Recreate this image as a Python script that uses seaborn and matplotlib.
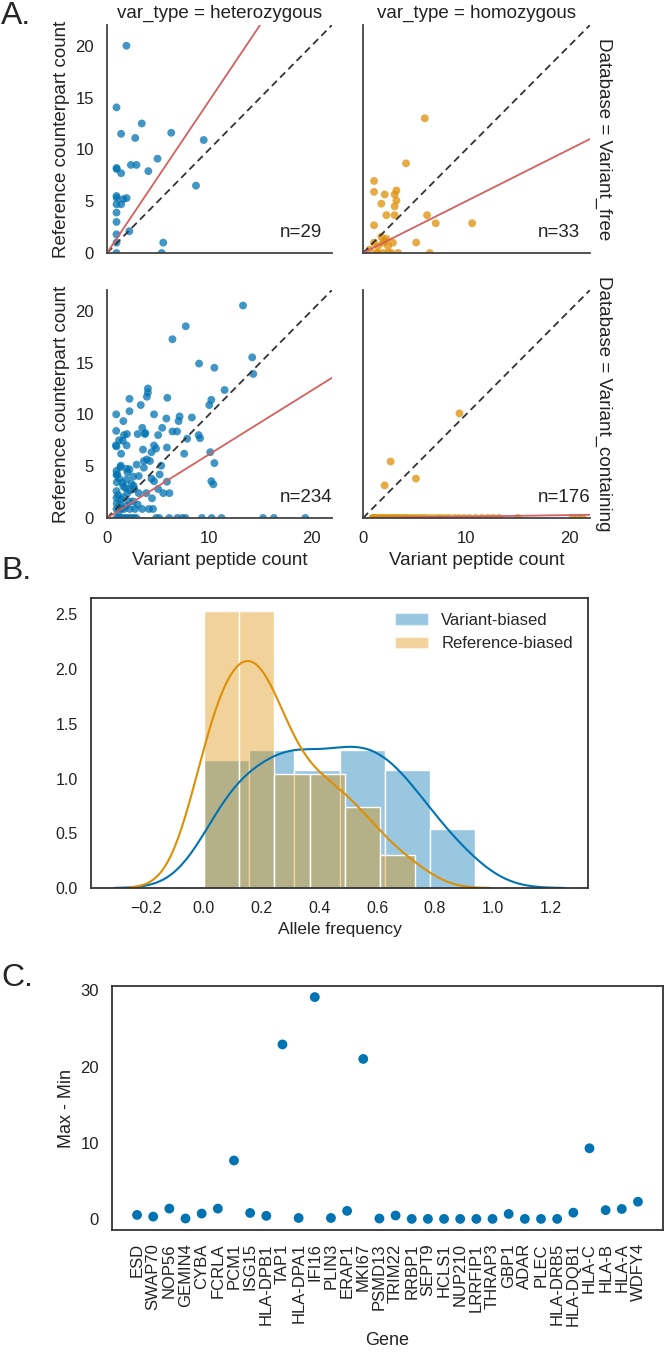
import numpy as np
import pandas as pd
import matplotlib
matplotlib.use("Agg")
import matplotlib.pyplot as plt
from matplotlib.patches import Patch
import seaborn as sns

sns.set_theme(style="white")
plt.rcParams["font.family"] = ["Liberation Sans", "DejaVu Sans"]

BLUE = "#0173B2"
ORANGE = "#DE8F05"
RED = "#d65f5f"

# ---------------- Panel A data: variant count vs reference counterpart count
het_free_x = [1.9, 0.93, 1.38, 3.4, 2.76, 6.28, 9.46, 0.93, 0.95, 1.38, 2.34, 2.88,
              4.94, 4.04, 8.7, 0.93, 0.95, 1.92, 1.6, 1.38, 0.93, 0.93, 0.93, 0.93,
              2.18, 0.93, 5.5, 0.93, 5.35]
het_free_y = [20.0, 14.05, 11.5, 12.5, 11.1, 11.6, 10.9, 8.2, 8.1, 7.7, 8.5, 8.5,
              9.1, 7.9, 6.5, 5.5, 5.3, 5.3, 5.2, 4.7, 4.7, 3.9, 3.0, 1.8,
              2.1, 1.0, 1.0, 0.0, 0.0]

hom_free_x = [5.99, 4.17, 1.07, 1.07, 2.1, 3.24, 3.07, 3.24, 1.78, 3.07, 2.27, 3.07,
              6.21, 7.05, 10.58, 1.07, 5.15, 1.07, 1.78, 2.27, 1.94, 1.46, 2.43,
              1.46, 1.94, 2.43, 2.75, 3.4, 6.47, 0.65, 2.9, 1.3, 2.1]
hom_free_y = [13.0, 8.65, 6.95, 5.9, 5.65, 6.04, 5.65, 5.06, 4.76, 4.5, 3.65, 3.65,
              3.65, 2.87, 2.87, 2.68, 1.01, 1.0, 1.57, 1.37, 1.0, 0.65, 0.65,
              0.0, 0.0, 0.0, 0.0, 0.0, 0.0, 0.33, 1.0, 0.0, 1.15]

het_cont_x = [13.3, 7.7, 6.4, 14.2, 9.0, 10.5, 14.3, 11.5, 4.0, 4.0, 3.9, 2.2, 5.9,
              10.2, 10.0, 3.3, 2.2, 0.9, 4.6, 7.1, 5.8, 8.3, 1.6, 7.0, 3.45, 5.4,
              0.9, 3.75, 1.95, 6.4, 6.85, 8.96, 9.1, 7.84, 5.0, 1.66, 3.0, 3.7,
              1.18, 1.54, 1.92, 0.86, 0.93, 4.6, 4.8, 5.86, 3.52, 4.35, 7.55, 1.38,
              10.1, 10.5, 3.9, 4.2, 3.6, 2.9, 3.6, 5.3, 1.35, 1.92, 2.2, 0.93, 0.93,
              5.15, 3.1, 2.56, 4.35, 4.6, 5.86, 10.2, 10.4, 0.96, 1.92, 1.6, 0.93,
              2.2, 2.66, 5.0, 5.5, 6.1, 3.84, 3.1, 0.93, 1.38, 4.4, 2.18, 0.93,
              1.66, 2.24, 2.75, 3.45, 4.1, 4.5, 1.28, 2.56, 3.0, 1.12, 1.0, 1.2,
              1.5, 1.8, 2.0, 1.1, 1.6, 2.4, 1.3, 2.0, 2.6, 1.9, 0.95, 1.45,
              0.93, 1.2, 1.44, 1.7, 1.92, 2.15, 2.4, 2.65, 2.88, 4.8, 5.12, 6.08,
              6.88, 7.36, 7.68, 9.28, 10.24, 11.2, 15.26, 16.32, 19.39]
het_cont_y = [20.5, 18.5, 17.25, 15.5, 14.9, 14.5, 13.9, 12.35, 12.5, 12.1, 11.7, 11.5, 11.6,
              11.4, 10.9, 10.9, 10.3, 10.0, 10.0, 9.8, 9.6, 9.7, 9.35, 9.35, 8.7, 8.7,
              8.4, 8.2, 8.1, 8.35, 8.35, 8.0, 7.7, 7.65, 8.0, 8.0, 8.1, 8.1,
              7.5, 7.45, 7.0, 7.0, 6.9, 7.0, 6.7, 6.8, 6.6, 6.35, 6.2, 6.2,
              6.35, 5.3, 5.65, 5.5, 5.5, 5.15, 4.85, 5.05, 5.05, 4.75, 4.7, 4.55, 4.15,
              4.2, 4.05, 4.0, 3.8, 3.55, 3.5, 3.55, 3.25, 3.45, 3.7, 3.05, 2.6,
              2.7, 2.8, 2.8, 2.4, 2.4, 2.4, 2.4, 1.95, 1.8, 1.9, 1.6, 0.87,
              0.87, 0.87, 0.87, 0.87, 0.87, 0.87, 1.3, 1.6, 1.3, 0.5, 4.2, 3.8,
              3.4, 2.9, 2.4, 2.2, 2.0, 3.3, 4.9, 4.4, 3.1, 1.2, 1.4, 0.9,
              0.0, 0.0, 0.0, 0.0, 0.0, 0.0, 0.0, 0.0, 0.0, 0.0, 0.0, 0.0,
              0.0, 0.0, 0.0, 0.0, 0.0, 0.0, 0.0, 0.0, 0.0]

hom_cont_x = [9.35, 2.68, 2.1, 5.13,
              0.9, 1.0, 1.1, 1.3, 1.5, 1.7, 1.9, 2.0, 2.2, 2.4, 2.6, 2.8, 3.0, 3.2,
              3.4, 3.6, 3.9, 4.1, 4.3, 4.6, 4.9, 5.2, 5.5, 5.8, 6.1, 6.5, 6.9, 7.3,
              7.6, 8.0, 8.4, 8.9, 9.3, 9.8, 10.3, 10.9, 11.5, 12.1, 12.6, 13.2,
              15.0, 20.3, 20.8, 21.3]
hom_cont_y = [10.1, 5.45, 3.15, 3.8,
              0.0, 0.0, 0.0, 0.0, 0.0, 0.0, 0.0, 0.0, 0.0, 0.0, 0.0, 0.0, 0.0, 0.0,
              0.0, 0.0, 0.0, 0.0, 0.0, 0.0, 0.0, 0.0, 0.0, 0.0, 0.0, 0.0, 0.0, 0.0,
              0.0, 0.0, 0.0, 0.0, 0.0, 0.0, 0.0, 0.0, 0.0, 0.0, 0.0, 0.0,
              0.0, 0.0, 0.0, 0.0]

facet_n = [29, 33, 234, 176]
fit_slopes = [1.47, 0.50, 0.615, 0.014]
var_types = ["heterozygous", "homozygous"]
databases = ["Variant_free", "Variant_containing"]

# ---------------- Panel B data: allele frequency samples
variant_af = [0.0, 0.03, 0.05, 0.07, 0.08, 0.09, 0.10, 0.11, 0.12, 0.13, 0.14, 0.15, 0.155,
              0.18, 0.20, 0.22, 0.24, 0.25, 0.26, 0.27, 0.28, 0.29, 0.30, 0.30, 0.31, 0.31, 0.31,
              0.32, 0.33, 0.35, 0.37, 0.39, 0.41, 0.42, 0.43, 0.44, 0.45, 0.46, 0.465,
              0.48, 0.49, 0.50, 0.51, 0.52, 0.53, 0.54, 0.55, 0.56, 0.57, 0.58, 0.59, 0.60, 0.61,
              0.63, 0.64, 0.65, 0.66, 0.67, 0.68, 0.69, 0.70, 0.71, 0.73, 0.75, 0.77,
              0.79, 0.81, 0.84, 0.87, 0.90, 0.94]
reference_af = [0.0, 0.0, 0.0, 0.0, 0.01, 0.02, 0.03, 0.04, 0.05, 0.06, 0.07, 0.08, 0.09,
                0.10, 0.11, 0.12, 0.12,
                0.13, 0.14, 0.15, 0.15, 0.16, 0.17, 0.18, 0.19, 0.20, 0.20, 0.21, 0.22,
                0.22, 0.23, 0.24, 0.24, 0.24,
                0.26, 0.28, 0.30, 0.32, 0.34, 0.35, 0.36,
                0.38, 0.40, 0.42, 0.44, 0.46, 0.47, 0.48,
                0.51, 0.54, 0.57, 0.59, 0.605,
                0.69, 0.733]

# ---------------- Panel C data
genes = ["ESD", "SWAP70", "NOP56", "GEMIN4", "CYBA", "FCRLA", "PCM1", "ISG15",
         "HLA-DPB1", "TAP1", "HLA-DPA1", "IFI16", "PLIN3", "ERAP1", "MKI67", "PSMD13",
         "TRIM22", "RRBP1", "SEPT9", "HCLS1", "NUP210", "LRRFIP1", "THRAP3", "GBP1",
         "ADAR", "PLEC", "HLA-DRB5", "HLA-DQB1", "HLA-C", "HLA-B", "HLA-A", "WDFY4"]
max_minus_min = [0.57, 0.35, 1.4, 0.1, 0.75, 1.4, 7.7, 0.83,
                 0.45, 22.9, 0.17, 29.1, 0.17, 1.1, 21.0, 0.1,
                 0.5, 0.05, 0.05, 0.05, 0.05, 0.05, 0.05, 0.7,
                 0.05, 0.05, 0.05, 0.87, 9.3, 1.2, 1.35, 2.3]

W, H = 666, 1353


def px(x0, y0, x1, y1):
    return [x0 / W, 1 - y1 / H, (x1 - x0) / W, (y1 - y0) / H]


fig = plt.figure(figsize=(W / 100, H / 100), dpi=100)

# ---------------- Panel A
facets = [
    (het_free_x, het_free_y, BLUE, (107, 25, 332, 253)),
    (hom_free_x, hom_free_y, ORANGE, (363, 25, 590, 253)),
    (het_cont_x, het_cont_y, BLUE, (107, 290, 332, 518)),
    (hom_cont_x, hom_cont_y, ORANGE, (363, 290, 590, 518)),
]
for i, (xs, ys, col, box) in enumerate(facets):
    ax = fig.add_axes(px(*box))
    row, c = divmod(i, 2)
    sns.scatterplot(x=xs, y=ys, color=col, s=32, alpha=0.75, edgecolor="none", ax=ax)
    ax.axline((0, 0), slope=1, ls="--", color="#333333", lw=1.3, dashes=(4, 2.5))
    ax.axline((0, 0), slope=fit_slopes[i], color=RED, lw=1.3)
    ax.set_xlim(0, 22)
    ax.set_ylim(0, 22)
    ax.set_xticks([0, 10, 20])
    ax.set_yticks([0, 5, 10, 15, 20])
    ax.tick_params(labelsize=12, colors="#222222")
    sns.despine(ax=ax)
    for s in ["left", "bottom"]:
        ax.spines[s].set_color("#444444")
        ax.spines[s].set_linewidth(1.3)
    ax.text(16.9, 2.0, f"n={facet_n[i]}", fontsize=13.5, ha="left", va="center",
            color="#222222")
    if row == 0:
        ax.set_title(f"var_type = {var_types[c]}", fontsize=13.5, pad=5, color="#222222")
        ax.tick_params(labelbottom=False)
    else:
        ax.set_xlabel("Variant peptide count", fontsize=13.5, color="#222222")
    if c == 0:
        ax.set_ylabel("Reference counterpart count", fontsize=13.5, color="#222222")
    else:
        ax.tick_params(labelleft=False)
        ax.text(1.02, 0.5, f"Database = {databases[row]}", rotation=270,
                transform=ax.transAxes, ha="left", va="center", fontsize=13.5,
                color="#222222")

# ---------------- Panel B
axB = fig.add_axes(px(91, 598, 588, 888))
sns.histplot(x=variant_af, bins=6, stat="density", color=BLUE, alpha=0.4,
             edgecolor="white", linewidth=1, ax=axB)
sns.histplot(x=reference_af, bins=6, stat="density", color=ORANGE, alpha=0.4,
             edgecolor="white", linewidth=1, ax=axB)
sns.kdeplot(x=variant_af, cut=3, color=BLUE, lw=1.5, ax=axB)
sns.kdeplot(x=reference_af, cut=3, color=ORANGE, lw=1.5, ax=axB)
axB.set_xlim(-0.39, 1.33)
axB.set_ylim(0, 2.65)
axB.set_xticks([-0.2, 0.0, 0.2, 0.4, 0.6, 0.8, 1.0, 1.2])
axB.set_yticks([0.0, 0.5, 1.0, 1.5, 2.0, 2.5])
axB.set_xlabel("Allele frequency", fontsize=12.5, color="#222222")
axB.set_ylabel("")
axB.tick_params(labelsize=11.5, colors="#222222")
for s in axB.spines.values():
    s.set_color("#333333")
    s.set_linewidth(1.3)
handles = [Patch(facecolor=BLUE, alpha=0.4, label="Variant-biased"),
           Patch(facecolor=ORANGE, alpha=0.4, label="Reference-biased")]
axB.legend(handles=handles, loc="upper right", frameon=False, fontsize=12)

# ---------------- Panel C
axC = fig.add_axes(px(112, 986, 663, 1230))
sns.scatterplot(x=genes, y=max_minus_min, color=BLUE, s=50, edgecolor="none", ax=axC)
axC.set_yticks([0, 10, 20, 30])
axC.set_xlabel("Gene", fontsize=13, color="#222222")
axC.set_ylabel("Max - Min", fontsize=13, color="#222222")
axC.tick_params(axis="x", rotation=90, labelsize=12, colors="#222222")
axC.tick_params(axis="y", labelsize=12, colors="#222222")
for s in axC.spines.values():
    s.set_color("#333333")
    s.set_linewidth(1.3)

# panel letters
fig.text(1 / W, 1 - 16 / H, "A.", fontsize=23, va="center", ha="left")
fig.text(1 / W, 1 - 571 / H, "B.", fontsize=23, va="center", ha="left")
fig.text(1 / W, 1 - 978 / H, "C.", fontsize=23, va="center", ha="left")

fig.savefig("out.png", dpi=100)
